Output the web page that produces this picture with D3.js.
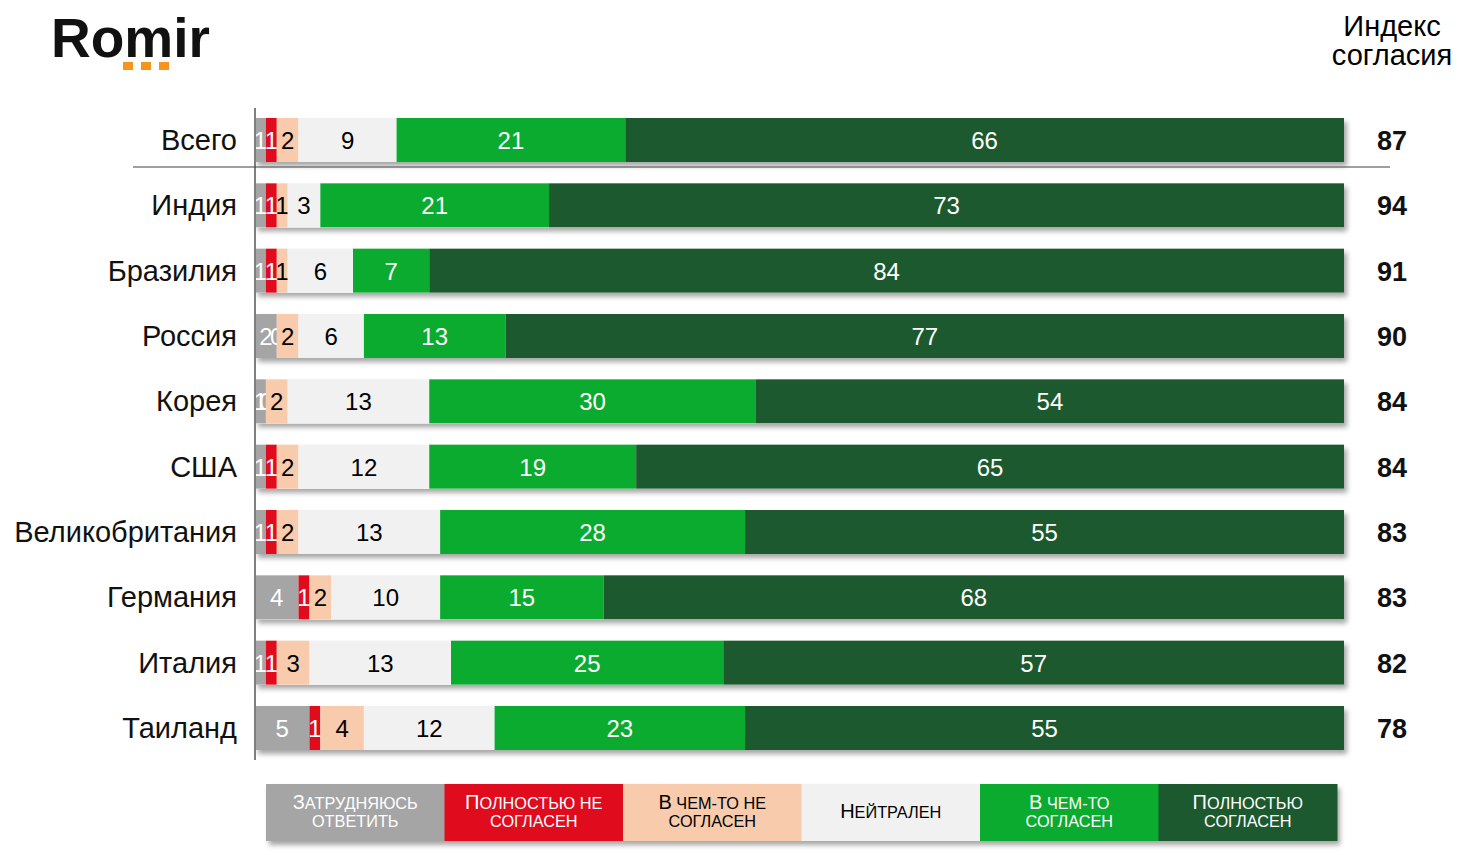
<!DOCTYPE html>
<html>
<head>
<meta charset="utf-8">
<script src="https://cdn.jsdelivr.net/npm/d3@7"></script>
<style>
  body { margin: 0; background: #fff; }
  svg { font-family: "Liberation Sans", Arial, sans-serif; }
</style>
</head>
<body>
<svg id="drawing_region"></svg>
<script>
const countries = ["Всего", "Индия", "Бразилия", "Россия", "Корея", "США", "Великобритания", "Германия", "Италия", "Таиланд"];
const categories = ["Затрудняюсь ответить", "Полностью не согласен", "В чем-то не согласен", "Нейтрален", "В чем-то согласен", "Полностью согласен"];
const legendLines = [["Затрудняюсь", "ответить"], ["Полностью не", "согласен"], ["В чем-то не", "согласен"], ["Нейтрален"], ["В чем-то", "согласен"], ["Полностью", "согласен"]];
const hardToSay      = [1, 1, 1, 2, 1, 1, 1, 4, 1, 5];
const fullyDisagree  = [1, 1, 1, 0, 0, 1, 1, 1, 1, 1];
const partlyDisagree = [2, 1, 1, 2, 2, 2, 2, 2, 3, 4];
const neutral        = [9, 3, 6, 6, 13, 12, 13, 10, 13, 12];
const partlyAgree    = [21, 21, 7, 13, 30, 19, 28, 15, 25, 23];
const fullyAgree     = [66, 73, 84, 77, 54, 65, 55, 68, 57, 55];
const agreeIndex     = [87, 94, 91, 90, 84, 84, 83, 83, 82, 78];

const colors = ["#a5a5a5", "#e00b1c", "#f8cbad", "#f1f1f1", "#0bab2f", "#1d592e"];
const textColors = ["#fff", "#fff", "#000", "#000", "#fff", "#fff"];

const series = [hardToSay, fullyDisagree, partlyDisagree, neutral, partlyAgree, fullyAgree];
const table = countries.map((c, i) => {
    const row = { country: c, index: agreeIndex[i] };
    categories.forEach((k, j) => { row[k] = series[j][i]; });
    return row;
});

const width = 1476, height = 855;

const svg = d3.select('#drawing_region')
    .attr('width', width)
    .attr('height', height);

// shadow for bars and legend
const defs = svg.append('defs');
defs.append('filter')
    .attr('id', 'shadow')
    .attr('x', '-5%').attr('y', '-20%')
    .attr('width', '110%').attr('height', '160%')
    .append('feDropShadow')
    .attr('dx', 3).attr('dy', 4)
    .attr('stdDeviation', 2.5)
    .attr('flood-color', '#000')
    .attr('flood-opacity', 0.35);

// logo
svg.append('text')
    .attr('x', 51).attr('y', 57)
    .attr('font-size', '55px')
    .attr('font-weight', 'bold')
    .attr('fill', '#111')
    .text('Romir');
[123, 141, 159].forEach(x => {
    svg.append('rect')
        .attr('x', x).attr('y', 62)
        .attr('width', 10).attr('height', 8)
        .attr('fill', '#f7941d');
});

// index header
svg.append('text')
    .attr('x', 1392).attr('y', 36)
    .attr('text-anchor', 'middle')
    .attr('font-size', '29px')
    .text('Индекс');
svg.append('text')
    .attr('x', 1392).attr('y', 65)
    .attr('text-anchor', 'middle')
    .attr('font-size', '29px')
    .text('согласия');

const xscale = d3.scaleLinear().domain([0, 100]).range([255, 1344]);
const yscale = d3.scalePoint().domain(countries).range([140, 728]);
const barH = 44;

const stacked = d3.stack().keys(categories)(table);

const layers = svg.selectAll('g.layer')
    .data(stacked)
    .join('g')
    .attr('class', 'layer');

// shadows drawn first as one rect per row
svg.insert('g', 'g.layer')
    .selectAll('rect')
    .data(table)
    .join('rect')
    .attr('x', xscale(0))
    .attr('y', d => yscale(d.country) - barH / 2)
    .attr('width', xscale(100) - xscale(0))
    .attr('height', barH)
    .attr('fill', '#fff')
    .attr('filter', 'url(#shadow)');

layers.each(function(layer, j) {
    const g = d3.select(this);
    g.selectAll('rect')
        .data(layer)
        .join('rect')
        .attr('x', d => xscale(d[0]))
        .attr('y', d => yscale(d.data.country) - barH / 2)
        .attr('width', d => xscale(d[1]) - xscale(d[0]))
        .attr('height', barH)
        .attr('fill', colors[j]);
});

layers.each(function(layer, j) {
    const g = d3.select(this);
    g.selectAll('text')
        .data(layer)
        .join('text')
        .attr('x', d => (xscale(d[0]) + xscale(d[1])) / 2)
        .attr('y', d => yscale(d.data.country) + 9)
        .attr('text-anchor', 'middle')
        .attr('font-size', '24px')
        .attr('fill', textColors[j])
        .text(d => d[1] - d[0]);
});

// country labels
svg.append('g')
    .selectAll('text')
    .data(table)
    .join('text')
    .attr('x', 237)
    .attr('y', d => yscale(d.country) + 10)
    .attr('text-anchor', 'end')
    .attr('font-size', '29px')
    .attr('fill', '#111')
    .text(d => d.country);

// index values
svg.append('g')
    .selectAll('text')
    .data(table)
    .join('text')
    .attr('x', 1392)
    .attr('y', d => yscale(d.country) + 10)
    .attr('text-anchor', 'middle')
    .attr('font-size', '27px')
    .attr('font-weight', 'bold')
    .attr('fill', '#111')
    .text(d => d.index);

// axis line and separator
svg.append('line')
    .attr('x1', 255).attr('x2', 255)
    .attr('y1', 108).attr('y2', 760)
    .attr('stroke', '#7f7f7f')
    .attr('stroke-width', 2);
svg.append('line')
    .attr('x1', 133).attr('x2', 1390)
    .attr('y1', 167).attr('y2', 167)
    .attr('stroke', '#404040')
    .attr('stroke-width', 1.2);

// legend
const lscale = d3.scaleBand().domain(categories).range([266, 1337]);
const legend = svg.append('g');
legend.append('rect')
    .attr('x', lscale.range()[0]).attr('y', 784)
    .attr('width', lscale.range()[1] - lscale.range()[0])
    .attr('height', 57)
    .attr('fill', '#fff')
    .attr('filter', 'url(#shadow)');
const items = legend.selectAll('g.item')
    .data(categories)
    .join('g')
    .attr('class', 'item');
items.append('rect')
    .attr('x', d => lscale(d))
    .attr('y', 784)
    .attr('width', lscale.bandwidth() + 0.5)
    .attr('height', 57)
    .attr('fill', (d, i) => colors[i]);
// manual small caps: first letter large, rest in smaller capitals
items.each(function(d, i) {
    const lines = legendLines[i];
    lines.forEach((s, k) => {
        const t = d3.select(this).append('text')
            .attr('x', lscale(d) + lscale.bandwidth() / 2)
            .attr('y', lines.length === 1 ? 818 : 809 + k * 18)
            .attr('text-anchor', 'middle')
            .attr('fill', textColors[i]);
        if (k === 0) {
            t.append('tspan').attr('font-size', '20px').text(s[0].toUpperCase());
            t.append('tspan').attr('font-size', '16.3px').text(s.slice(1).toUpperCase());
        } else {
            t.append('tspan').attr('font-size', '16.3px').text(s.toUpperCase());
        }
    });
});
</script>
</body>
</html>
